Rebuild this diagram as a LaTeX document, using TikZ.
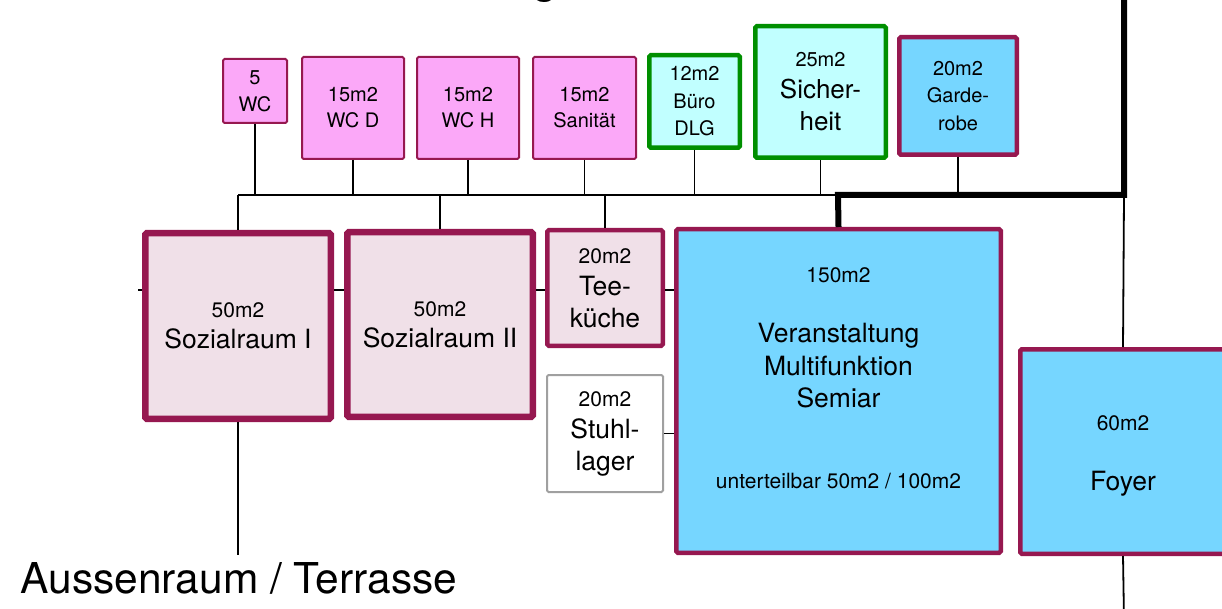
\documentclass[tikz,border=0pt]{standalone}
\usepackage{fontspec}
\setmainfont{TeX Gyre Heros}
\definecolor{mag}{RGB}{150,24,80}
\definecolor{pinkfill}{RGB}{251,168,248}
\definecolor{sozfill}{RGB}{240,224,232}
\definecolor{icefill}{RGB}{193,255,255}
\definecolor{skyfill}{RGB}{118,214,255}
\definecolor{clover}{RGB}{0,143,0}
\definecolor{greyline}{RGB}{160,160,160}
\newcommand\rsm{\fontsize{21}{25}\selectfont}
\newcommand\rlg{\fontsize{26.5}{31}\selectfont}
\begin{document}
\begin{tikzpicture}[x=1pt,y=-1pt,
  room/.style={draw, rounded corners=1.5pt, align=center, inner sep=0pt, text=black},
  pinkbox/.style={room, draw=mag, fill=pinkfill, line width=2pt},
  greenbox/.style={room, draw=clover, fill=icefill, line width=4.5pt},
  skybox/.style={room, draw=mag, fill=skyfill, line width=4.5pt},
  sozbox/.style={room, draw=mag, fill=sozfill, line width=6.5pt},
  teebox/.style={room, draw=mag, fill=sozfill, line width=4.5pt},
  greybox/.style={room, draw=greyline, fill=white, line width=2pt},
  conn/.style={draw=black, line width=1.8pt},
  mainline/.style={draw=black, line width=6pt, line join=miter},
  lbl/.style={anchor=base, inner sep=0pt, text=black}]
\useasboundingbox (0,0) rectangle (1222,609);

% title fragment (cut off at the top edge, as in the reference)
\node[lbl, font=\fontsize{46}{50}\selectfont] (gfrag) at (545,-7.5) {g};

% top row
\node[pinkbox, minimum width=64, minimum height=64, font=\fontsize{20}{27}\selectfont] (wc) at (255,91) {5\\WC};
\node[pinkbox, minimum width=102, minimum height=102, font=\fontsize{20}{26}\selectfont] (wcd) at (353,108) {15m2\\WC D};
\node[pinkbox, minimum width=102, minimum height=102, font=\fontsize{20}{26}\selectfont] (wch) at (468,108) {15m2\\WC H};
\node[pinkbox, minimum width=103, minimum height=102, font=\fontsize{20}{26}\selectfont] (san) at (584.5,108) {15m2\\Sanität};
\node[greenbox, minimum width=90.5, minimum height=92.5, font=\fontsize{20}{27.5}\selectfont] (buero) at (694.5,101.5) {12m2\\Büro\\DLG};
\node[greenbox, minimum width=130.5, minimum height=131.5, font=\fontsize{20}{32}\selectfont] (sich) at (820.5,92) {25m2\\{\fontsize{26}{31}\selectfont Sicher-}\\{\fontsize{26}{31}\selectfont heit}};
\node[skybox, minimum width=117.5, minimum height=117.5, font=\fontsize{20}{27.5}\selectfont] (gard) at (958,96) {20m2\\Garde-\\robe};

% second row
\node[sozbox, minimum width=185.5, minimum height=185.5, font=\fontsize{21}{31}\selectfont] (soz1) at (238,326) {50m2\\{\rlg Sozialraum I}};
\node[sozbox, minimum width=185.5, minimum height=184.5, font=\fontsize{21}{31}\selectfont] (soz2) at (440,324.5) {50m2\\{\rlg Sozialraum II}};
\node[teebox, minimum width=115.5, minimum height=115.5, font=\fontsize{21}{32}\selectfont] (tee) at (605,288) {20m2\\{\rlg Tee-}\\{\rlg küche}};
\node[greybox, minimum width=116, minimum height=117, font=\fontsize{21}{32}\selectfont] (stuhl) at (605,433.5) {20m2\\{\rlg Stuhl-}\\{\rlg lager}};
\node[skybox, minimum width=324.5, minimum height=323.5] (veran) at (838.5,391) {};
\node[skybox, minimum width=205.5, minimum height=204.5] (foyer) at (1123,451.5) {};

% texts of the large rooms
\node[lbl, font=\rsm] (veranA) at (veran.center |- 0,283) {150m2};
\node[lbl, font=\rlg] (veranB) at (veran.center |- 0,342) {Veranstaltung};
\node[lbl, font=\rlg] (veranC) at (veran.center |- 0,375) {Multifunktion};
\node[lbl, font=\rlg] (veranD) at (veran.center |- 0,407) {Semiar};
\node[lbl, font=\rsm] (veranE) at (veran.center |- 0,488) {unterteilbar 50m2 / 100m2};
\node[lbl, font=\rsm] (foyerA) at (foyer.center |- 0,430) {60m2};
\node[lbl, font=\rlg] (foyerB) at (foyer.center |- 0,490) {Foyer};

% helper coordinates
\coordinate (bus) at (238,195);
\coordinate (busE) at (838,195);
\coordinate (corner) at (1124,195);
\coordinate (topE) at (1124,-10);
\coordinate (row) at (0,290);
\coordinate (stub) at (138,290);
\coordinate (aus) at (238,555);
\coordinate (bottomE) at (1124,620);

% bus and drops
\draw[conn] (bus) -- (busE);
\foreach \n in {wc,wcd,wch,san,buero,sich,gard}
  \draw[conn] (\n.south) -- (\n.south |- bus);
\foreach \n in {soz1,soz2,tee}
  \draw[conn] (\n.north |- bus) -- (\n.north);

% horizontal links
\draw[conn] (stub) -- (soz1.west |- row);
\draw[conn] (soz1.east |- row) -- (soz2.west |- row);
\draw[conn] (soz2.east |- row) -- (tee.west |- row);
\draw[conn] (tee.east |- row) -- (veran.west |- row);
\draw[conn] (stuhl.east) -- (veran.west |- stuhl.east);

% outside
\draw[conn] (soz1.south) -- (aus);
\node[lbl, font=\fontsize{42.5}{50}\selectfont] (terr) at (239,593) {Aussenraum / Terrasse};

% foyer line
\draw[conn] (corner) -- (foyer.north);
\draw[conn] (foyer.south) -- (bottomE);

% main thick line
\draw[mainline] (veran.north) -- (busE) -- (corner) -- (topE);
\end{tikzpicture}
\end{document}
